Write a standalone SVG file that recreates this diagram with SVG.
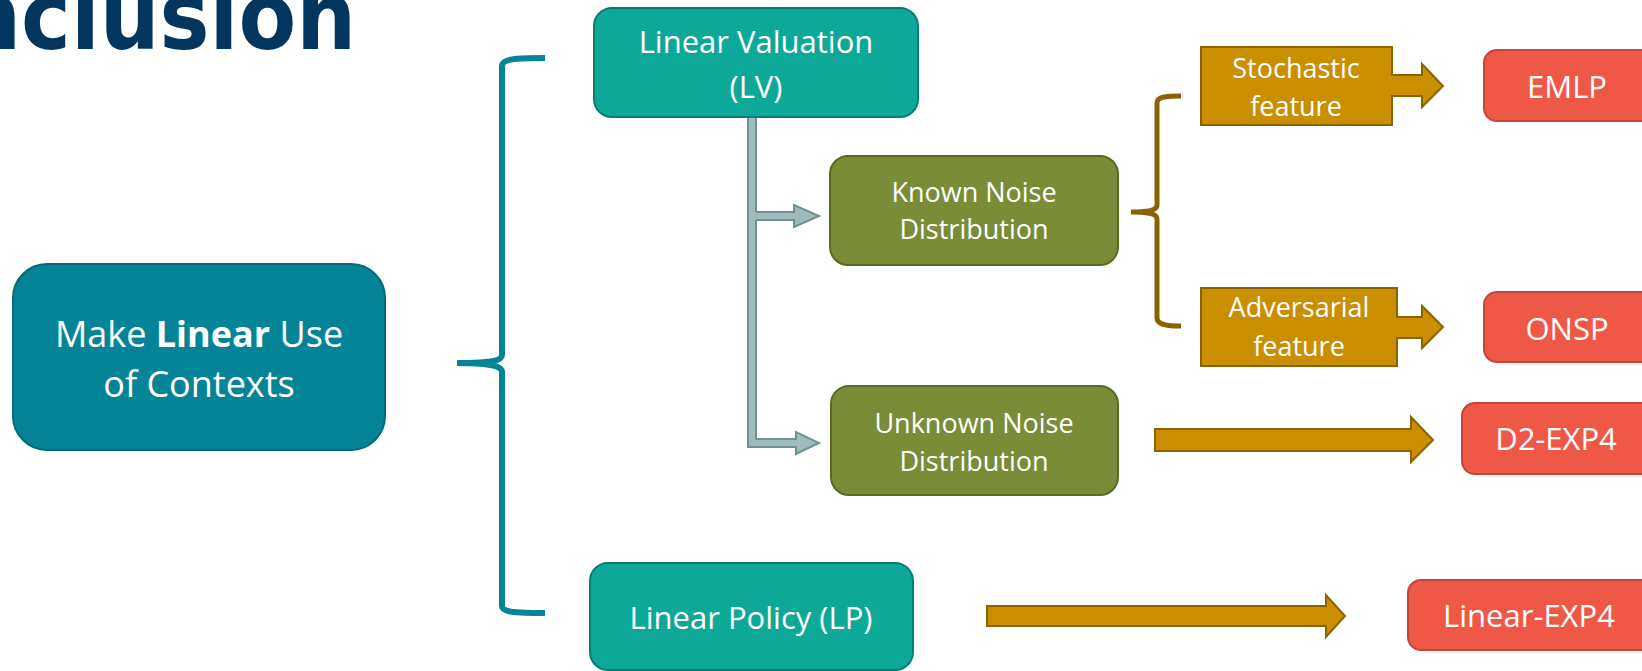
<svg xmlns="http://www.w3.org/2000/svg" width="1642" height="671" viewBox="0 0 1642 671">
<style>
.t{font-family:"Open Sans","Noto Sans","Liberation Sans",sans-serif;fill:#ffffff;text-anchor:middle}
.main{fill:#058497;stroke:#046a78;stroke-width:2}
.lv{fill:#0ea899;stroke:#0a7d72;stroke-width:2}
.kn{fill:#7a8c37;stroke:#5a6a22;stroke-width:2}
.red{fill:#ef5847;stroke:#c4453a;stroke-width:2}
.gold{fill:#c98f00;stroke:#8a6200;stroke-width:2}
.gray{fill:#9dbcbe;stroke:#6e9194;stroke-width:2}
</style>
<rect width="1642" height="671" fill="#ffffff"/>
<text transform="translate(356,49) scale(0.885,1)" x="0" y="0" font-family="'DejaVu Sans',sans-serif" font-weight="bold" font-size="95" fill="#03365f" text-anchor="end">Conclusion</text>

<g id="connectors">
  <path d="M545,58 C515,58 502,59 502,66 L502,355 C502,361 490,363 457,363 C490,363 502,366 502,372 L502,606 C502,612 515,613 545,613" fill="none" stroke="#058497" stroke-width="6"/>
  <path d="M1181,96 C1165,96 1157,97 1157,103 L1157,205 C1157,210 1150,212 1131,212 C1150,212 1157,214 1157,219 L1157,318 C1157,324 1165,326 1181,326" fill="none" stroke="#8a6200" stroke-width="5"/>
  <path class="gray" d="M748,117 L756,117 L756,439 L796,439 L796,432 L819,443 L796,454 L796,447 L748,447 Z"/>
  <path d="M753,212 L794,212 L794,205 L819,216 L794,227 L794,220 L753,220 Z" fill="#9dbcbe"/>
  <path d="M756,212 L794,212 L794,205 L819,216 L794,227 L794,220 L756,220" fill="none" stroke="#6e9194" stroke-width="2"/>
  <path class="gold" d="M1155,429 L1411,429 L1411,417 L1433,440 L1411,462 L1411,451 L1155,451 Z"/>
  <path class="gold" d="M987,606 L1326,606 L1326,595 L1345,616 L1326,637 L1326,626 L987,626 Z"/>
</g>

<g id="node-main">
  <rect class="main" x="13" y="264" width="372" height="186" rx="34"/>
  <text class="t" x="199" y="347" font-size="36">Make <tspan font-weight="bold">Linear</tspan> Use</text>
  <text class="t" x="199" y="397" font-size="36">of Contexts</text>
</g>
<g id="node-lv">
  <rect class="lv" x="594" y="8" width="324" height="109" rx="18"/>
  <text class="t" x="756" y="53" font-size="31">Linear Valuation</text>
  <text class="t" x="756" y="98" font-size="31">(LV)</text>
</g>
<g id="node-lp">
  <rect class="lv" x="590" y="563" width="323" height="107" rx="18"/>
  <text class="t" x="751" y="629" font-size="31">Linear Policy (LP)</text>
</g>
<g id="node-known">
  <rect class="kn" x="830" y="156" width="288" height="109" rx="18"/>
  <text class="t" x="974" y="202" font-size="27">Known Noise</text>
  <text class="t" x="974" y="239" font-size="27">Distribution</text>
</g>
<g id="node-unknown">
  <rect class="kn" x="831" y="386" width="287" height="109" rx="18"/>
  <text class="t" x="974" y="433" font-size="27">Unknown Noise</text>
  <text class="t" x="974" y="471" font-size="27">Distribution</text>
</g>
<g id="node-stochastic">
  <path class="gold" d="M1201,47 L1392,47 L1392,75 L1422,75 L1422,64 L1443,86 L1422,107 L1422,96 L1392,96 L1392,125 L1201,125 Z"/>
  <text class="t" x="1296" y="78" font-size="27">Stochastic</text>
  <text class="t" x="1296" y="116" font-size="27">feature</text>
</g>
<g id="node-adversarial">
  <path class="gold" d="M1201,288 L1397,288 L1397,317 L1422,317 L1422,306 L1443,327 L1422,348 L1422,338 L1397,338 L1397,366 L1201,366 Z"/>
  <text class="t" x="1299" y="317" font-size="27">Adversarial</text>
  <text class="t" x="1299" y="356" font-size="27">feature</text>
</g>
<g id="node-emlp">
  <rect class="red" x="1484" y="50" width="170" height="71" rx="13"/>
  <text class="t" x="1567" y="98" font-size="31">EMLP</text>
</g>
<g id="node-onsp">
  <rect class="red" x="1484" y="292" width="170" height="70" rx="13"/>
  <text class="t" x="1567" y="340" font-size="31">ONSP</text>
</g>
<g id="node-d2exp4">
  <rect class="red" x="1462" y="403" width="192" height="71" rx="13"/>
  <text class="t" x="1556" y="450" font-size="31">D2-EXP4</text>
</g>
<g id="node-linexp4">
  <rect class="red" x="1408" y="580" width="246" height="70" rx="13"/>
  <text class="t" x="1529" y="627" font-size="31">Linear-EXP4</text>
</g>
</svg>
